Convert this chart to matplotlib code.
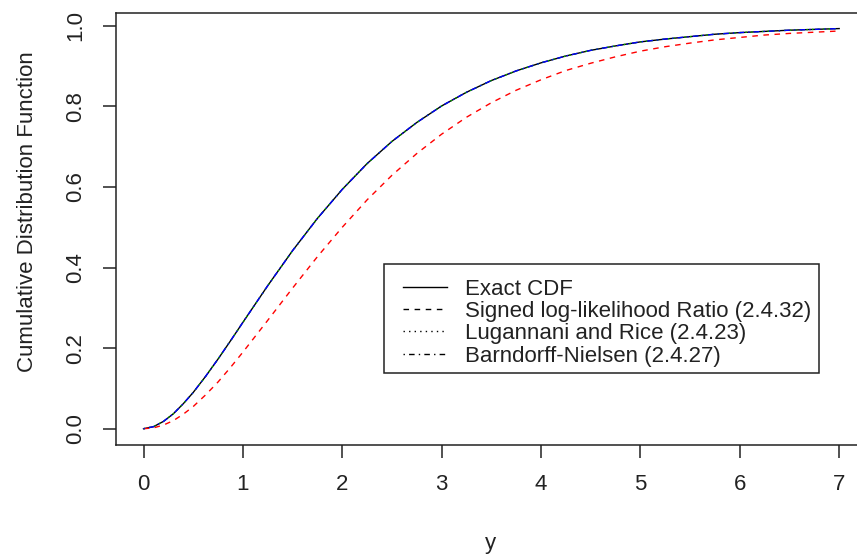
import matplotlib
matplotlib.use("Agg")
import matplotlib.pyplot as plt
from matplotlib.lines import Line2D
from matplotlib.patches import Rectangle

plt.rcParams['font.family'] = ['Liberation Sans', 'DejaVu Sans']

# values
y_vals = [0.0, 0.1, 0.2, 0.3, 0.4, 0.5, 0.625, 0.75, 0.875, 1.0, 1.25, 1.5, 1.75,
          2.0, 2.25, 2.5, 2.75, 3.0, 3.25, 3.5, 3.75, 4.0, 4.25, 4.5, 4.75,
          5.0, 5.25, 5.5, 5.75, 6.0, 6.25, 6.5, 6.75, 7.0]
exact_cdf = [0.0, 0.005, 0.018, 0.037, 0.062, 0.090, 0.130, 0.173, 0.218, 0.264,
             0.355, 0.442, 0.522, 0.594, 0.658, 0.713, 0.760, 0.801, 0.835, 0.864,
             0.888, 0.908, 0.925, 0.939, 0.950, 0.960, 0.967, 0.973, 0.979, 0.983,
             0.986, 0.989, 0.991, 0.993]
signed_lr = [0.0, 0.002, 0.009, 0.020, 0.036, 0.055, 0.084, 0.116, 0.152, 0.190,
             0.269, 0.349, 0.427, 0.500, 0.568, 0.629, 0.683, 0.731, 0.773, 0.809,
             0.840, 0.866, 0.889, 0.907, 0.923, 0.937, 0.948, 0.957, 0.965, 0.971,
             0.977, 0.981, 0.984, 0.987]
lugannani_rice = [0.0, 0.005, 0.018, 0.037, 0.062, 0.090, 0.130, 0.173, 0.218, 0.264,
                  0.355, 0.442, 0.522, 0.594, 0.658, 0.713, 0.760, 0.801, 0.835, 0.864,
                  0.888, 0.908, 0.925, 0.939, 0.950, 0.960, 0.967, 0.973, 0.979, 0.983,
                  0.986, 0.989, 0.991, 0.993]
barndorff_nielsen = [0.0, 0.005, 0.018, 0.037, 0.062, 0.090, 0.130, 0.173, 0.218, 0.264,
                     0.355, 0.442, 0.522, 0.594, 0.658, 0.713, 0.760, 0.801, 0.835, 0.864,
                     0.888, 0.908, 0.925, 0.939, 0.950, 0.960, 0.967, 0.973, 0.979, 0.983,
                     0.986, 0.989, 0.991, 0.993]

legend_labels = ["Exact CDF", "Signed log-likelihood Ratio (2.4.32)",
                 "Lugannani and Rice (2.4.23)", "Barndorff-Nielsen (2.4.27)"]
x_ticks = [0, 1, 2, 3, 4, 5, 6, 7]
y_ticks = [0.0, 0.2, 0.4, 0.6, 0.8, 1.0]

W, H = 857, 558
fig = plt.figure(figsize=(W / 100, H / 100), dpi=100)
left, right, top, bottom = 115.7, 867.0, 12.7, 444.7
ax = fig.add_axes([left / W, 1 - bottom / H, (right - left) / W, (bottom - top) / H])

ink = '#222222'
lw = 1.0
dash = (0, (4, 4))
dot = (0, (1, 3))
dotdash = (0, (1, 3, 4, 3))
ax.plot(y_vals, exact_cdf, color='black', lw=lw, ls='-')
ax.plot(y_vals, signed_lr, color='red', lw=lw, ls=dash)
ax.plot(y_vals, lugannani_rice, color='#00b000', lw=lw, ls=dot)
ax.plot(y_vals, barndorff_nielsen, color='blue', lw=lw, ls=dotdash)

ax.set_xlim(-0.28, 7.28)
ax.set_ylim(-0.0397, 1.0324)
ax.set_xticks(x_ticks)
ax.set_xticklabels([str(t) for t in x_ticks])
ax.set_yticks(y_ticks)
ax.set_yticklabels([f"{t:.1f}" for t in y_ticks], rotation=90, va='center')

for s in ['left', 'top', 'bottom']:
    ax.spines[s].set_linewidth(1.1)
    ax.spines[s].set_color(ink)
ax.spines['right'].set_visible(False)
ax.tick_params(direction='out', length=9.4, width=1.1, color=ink,
               labelsize=16, labelcolor=ink)
ax.tick_params(axis='x', pad=12)
ax.tick_params(axis='y', pad=12)

fig.text(490 / W, 1 - 543 / H, 'y', ha='center', va='center', fontsize=16, color=ink)
fig.text(28 / W, 1 - 212 / H, 'Cumulative Distribution Function', rotation=90,
         ha='center', va='center', fontsize=16, color=ink)

handles = [Line2D([], [], color='black', lw=lw, ls='-'),
           Line2D([], [], color='black', lw=lw, ls=dash),
           Line2D([], [], color='black', lw=lw, ls=dot),
           Line2D([], [], color='black', lw=lw, ls=dotdash)]
leg = ax.legend(handles, legend_labels, loc='upper left',
                bbox_to_anchor=(403 / W, 1 - 278.5 / H), bbox_transform=fig.transFigure,
                borderaxespad=0, fontsize=16, frameon=False,
                handlelength=2.0, handletextpad=0.8, borderpad=0.0, labelspacing=0.06)
for t in leg.get_texts():
    t.set_color(ink)

box = Rectangle((384 / W, 1 - 372.7 / H), (819 - 384) / W, (372.7 - 264) / H,
                transform=fig.transFigure, fill=False, edgecolor=ink, linewidth=1.1,
                zorder=5)
fig.add_artist(box)

fig.savefig('out.png', dpi=100)
